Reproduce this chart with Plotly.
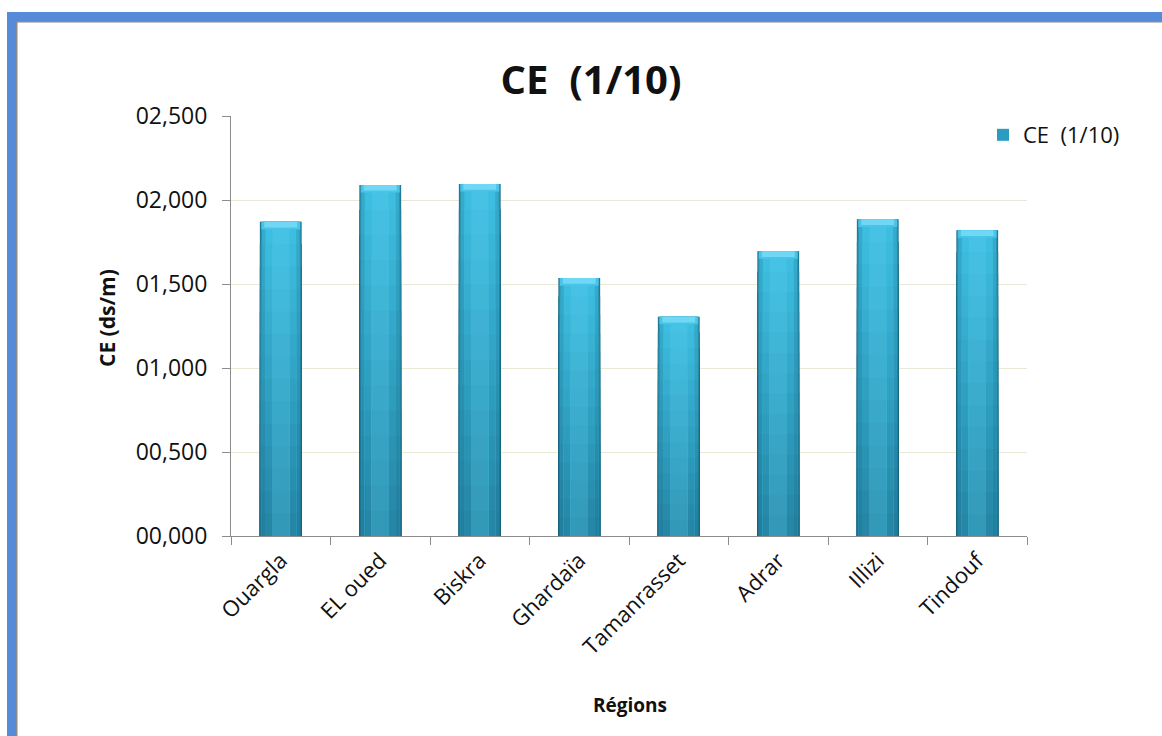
import plotly.graph_objects as go

# Data
regions = ["Ouargla", "EL oued", "Biskra", "Ghardaïa", "Tamanrasset", "Adrar", "Illizi", "Tindouf"]
ce_values = [1.870, 2.090, 2.095, 1.535, 1.305, 1.695, 1.885, 1.820]
y_tick_vals = [0.0, 0.5, 1.0, 1.5, 2.0, 2.5]
y_tick_text = ["00,000", "00,500", "01,000", "01,500", "02,000", "02,500"]
series_name = "CE\u00a0 (1/10)"

# Pixel geometry of the plotting area (used for margins and frame shapes)
W, H = 1162, 736
L, R, T, B = 231, 1027, 116, 536
FONT = "Open Sans"


def px_x(px):
    return (px - L) / (R - L)


def px_y(py):
    return (B - py) / (B - T)


def hex_to_rgb(h):
    h = h.lstrip("#")
    return tuple(int(h[i:i + 2], 16) for i in (0, 2, 4))


def mix(c1, c2, t):
    return tuple(c1[i] + (c2[i] - c1[i]) * t for i in range(3))


def rgb(c):
    return "rgb(%d,%d,%d)" % tuple(round(v) for v in c)


top_col = hex_to_rgb("#3ec0e3")
bottom_col = hex_to_rgb("#2484a4")
edge_col = hex_to_rgb("#15607a")
light_col = hex_to_rgb("#5fd0ee")

fig = go.Figure()

# Cylinder-like shading: nested bar widths (dark edges -> light centre).
# Within each width layer, bars are stacked from tallest (top colour) to
# shortest (base colour) so the vertical gradient has no seams.
layers = [(0.42, 0.85), (0.405, 0.5), (0.38, 0.2), (0.31, 0.0), (0.17, -0.25)]
n_seg = 14
for width, t in layers:
    for i in reversed(range(n_seg)):
        f = (i + 0.5) / n_seg
        base_c = mix(bottom_col, top_col, f)
        if t >= 0:
            c = mix(base_c, edge_col, t)
        else:
            c = mix(base_c, light_col, -t)
        fig.add_trace(go.Bar(
            x=regions,
            y=[v * (i + 1) / n_seg for v in ce_values],
            width=width,
            marker=dict(color=rgb(c), line=dict(width=0)),
            showlegend=False,
            hoverinfo="skip",
        ))

# Bevelled top cap
cap = 0.045
fig.add_trace(go.Bar(
    x=regions, y=[cap] * len(ce_values), base=[v - cap for v in ce_values],
    width=0.39, marker=dict(color="#48c4e8", line=dict(width=0)),
    showlegend=False, hoverinfo="skip",
))
fig.add_trace(go.Bar(
    x=regions, y=[cap * 0.75] * len(ce_values), base=[v - cap * 0.75 for v in ce_values],
    width=0.33, marker=dict(color="#70d8f4", line=dict(width=0)),
    showlegend=False, hoverinfo="skip",
))

# Legend entry (zero-height bar, only the swatch is shown)
fig.add_trace(go.Bar(
    x=regions, y=[0] * len(ce_values), name=series_name,
    marker=dict(color="#2a9cc0", line=dict(width=0)),
    showlegend=True, hoverinfo="skip",
))

# Frame: blue band on top and left with a thin grey inner edge
frame_blue = "#558bd8"
shapes = [
    dict(type="rect", xref="paper", yref="paper", x0=px_x(7), x1=px_x(W), y0=px_y(21), y1=px_y(12),
         fillcolor=frame_blue, line=dict(width=0), layer="above"),
    dict(type="rect", xref="paper", yref="paper", x0=px_x(7), x1=px_x(16), y0=px_y(H), y1=px_y(12),
         fillcolor=frame_blue, line=dict(width=0), layer="above"),
    dict(type="rect", xref="paper", yref="paper", x0=px_x(16), x1=px_x(W), y0=px_y(22.5), y1=px_y(21),
         fillcolor="#8a8a8a", line=dict(width=0), layer="above"),
    dict(type="rect", xref="paper", yref="paper", x0=px_x(16), x1=px_x(17.5), y0=px_y(H), y1=px_y(21),
         fillcolor="#8a8a8a", line=dict(width=0), layer="above"),
]

fig.update_layout(
    width=W, height=H,
    margin=dict(l=L, r=W - R, t=T, b=H - B, autoexpand=False),
    paper_bgcolor="white", plot_bgcolor="white",
    barmode="overlay",
    hovermode=False,
    font=dict(family=FONT, color="#111111"),
    title=dict(
        text="<b>" + series_name + "</b>",
        font=dict(family=FONT, size=40, color="#111111"),
        xref="container", yref="container",
        x=591 / W, xanchor="center",
        y=1 - 80 / H, yanchor="middle",
    ),
    legend=dict(
        x=px_x(983), y=px_y(114), xanchor="left", yanchor="top",
        font=dict(family=FONT, size=22, color="#111111"),
        bgcolor="rgba(0,0,0,0)",
    ),
    xaxis=dict(
        type="category",
        showline=True, linecolor="#8c8c8c", linewidth=1,
        ticks="outside", tickson="boundaries", ticklen=8, tickcolor="#8c8c8c",
        tickangle=-45,
        tickfont=dict(family=FONT, size=22, color="#111111"),
        ticklabelstandoff=2,
        showgrid=False,
        fixedrange=True,
    ),
    yaxis=dict(
        range=[0, 2.5],
        tickvals=y_tick_vals, ticktext=y_tick_text,
        showline=True, linecolor="#8c8c8c", linewidth=1,
        ticks="outside", ticklen=8, tickcolor="#8c8c8c",
        tickfont=dict(family=FONT, size=23, color="#111111"),
        ticklabelstandoff=10,
        showgrid=True, gridcolor="#ebe8d6", gridwidth=1,
        zeroline=False,
        fixedrange=True,
    ),
    shapes=shapes,
    annotations=[
        dict(text="<b>CE (ds/m)</b>", xref="paper", yref="paper",
             x=px_x(107), y=px_y(318), textangle=-90, showarrow=False,
             xanchor="center", yanchor="middle",
             font=dict(family=FONT, size=21, color="#111111")),
        dict(text="<b>Régions</b>", xref="paper", yref="paper",
             x=px_x(630), y=px_y(705), showarrow=False,
             xanchor="center", yanchor="middle",
             font=dict(family=FONT, size=19, color="#111111")),
    ],
)

fig.write_html("out.html", config=dict(displayModeBar=False))
